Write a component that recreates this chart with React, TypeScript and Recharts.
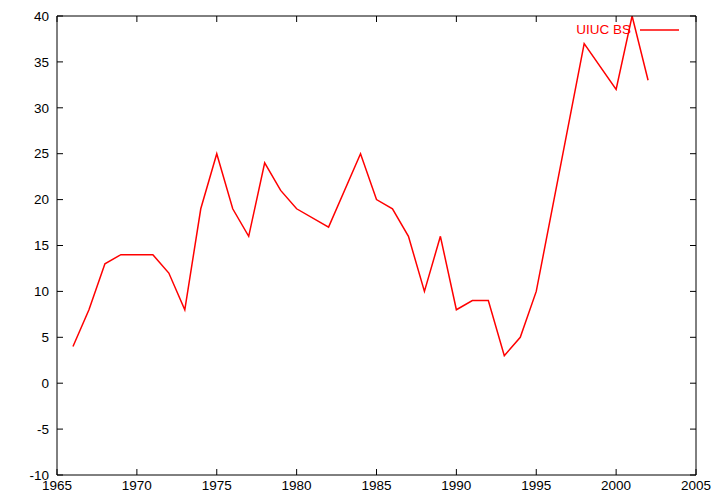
import { LineChart, Line, XAxis, YAxis, Legend } from "recharts";

// UIUC BS counts per year
const years = [
  1966, 1967, 1968, 1969, 1970, 1971, 1972, 1973, 1974, 1975, 1976, 1977,
  1978, 1979, 1980, 1982, 1984, 1985, 1986, 1987, 1988, 1989, 1990, 1991,
  1992, 1993, 1994, 1995, 1998, 2000, 2001, 2002,
];
const uiucBS = [
  4, 8, 13, 14, 14, 14, 12, 8, 19, 25, 19, 16,
  24, 21, 19, 17, 25, 20, 19, 16, 10, 16, 8, 9,
  9, 3, 5, 10, 37, 32, 40, 33,
];

const xTicks = [1965, 1970, 1975, 1980, 1985, 1990, 1995, 2000, 2005];
const yTicks = [-10, -5, 0, 5, 10, 15, 20, 25, 30, 35, 40];

const FONT = '"Liberation Sans", Arial, Helvetica, sans-serif';
const RED = "#ff0000";

const data = years.map((year, i) => ({ year, bs: uiucBS[i] }));

const tickStyle = { fill: "#000", fontSize: 13.5, fontFamily: FONT };
const blank = () => "";

function LegendBox() {
  return (
    <div style={{ display: "flex", alignItems: "center", height: 16 }}>
      <span
        style={{
          width: 71,
          textAlign: "right",
          color: RED,
          fontSize: 13.5,
          fontFamily: FONT,
          lineHeight: "16px",
          whiteSpace: "nowrap",
        }}
      >
        UIUC BS
      </span>
      <svg width={39} height={16} style={{ marginLeft: 9, display: "block" }}>
        <line x1={0} y1={8} x2={39} y2={8} stroke={RED} strokeWidth={1.5} />
      </svg>
    </div>
  );
}

export default function App() {
  return (
    <div style={{ position: "absolute", left: 0, top: 0, background: "#fff" }}>
      <LineChart
        width={720}
        height={504}
        data={data}
        margin={{ top: 0, right: 0, bottom: 0, left: 0 }}
      >
        <XAxis
          xAxisId="b"
          dataKey="year"
          type="number"
          domain={[1965, 2005]}
          ticks={xTicks}
          allowDataOverflow
          height={29}
          tickSize={-6}
          tickMargin={11}
          tick={tickStyle}
          axisLine={{ stroke: "#000" }}
          tickLine={{ stroke: "#000" }}
        />
        <XAxis
          xAxisId="t"
          orientation="top"
          dataKey="year"
          type="number"
          domain={[1965, 2005]}
          ticks={xTicks}
          allowDataOverflow
          height={16}
          tickSize={-6}
          tickFormatter={blank}
          axisLine={{ stroke: "#000" }}
          tickLine={{ stroke: "#000" }}
        />
        <YAxis
          yAxisId="l"
          type="number"
          domain={[-10, 40]}
          ticks={yTicks}
          allowDataOverflow
          width={57}
          tickSize={-6}
          tickMargin={14}
          tick={tickStyle}
          axisLine={{ stroke: "#000" }}
          tickLine={{ stroke: "#000" }}
        />
        <YAxis
          yAxisId="r"
          orientation="right"
          type="number"
          domain={[-10, 40]}
          ticks={yTicks}
          allowDataOverflow
          width={24}
          tickSize={-6}
          tickFormatter={blank}
          axisLine={{ stroke: "#000" }}
          tickLine={{ stroke: "#000" }}
        />
        <Legend
          layout="horizontal"
          verticalAlign="middle"
          align="center"
          content={() => <LegendBox />}
          wrapperStyle={{ position: "absolute", left: 560, top: 22, width: 125 }}
        />
        <Line
          xAxisId="b"
          yAxisId="l"
          dataKey="bs"
          name="UIUC BS"
          type="linear"
          stroke={RED}
          strokeWidth={1.5}
          dot={false}
          activeDot={false}
          isAnimationActive={false}
        />
      </LineChart>
    </div>
  );
}
